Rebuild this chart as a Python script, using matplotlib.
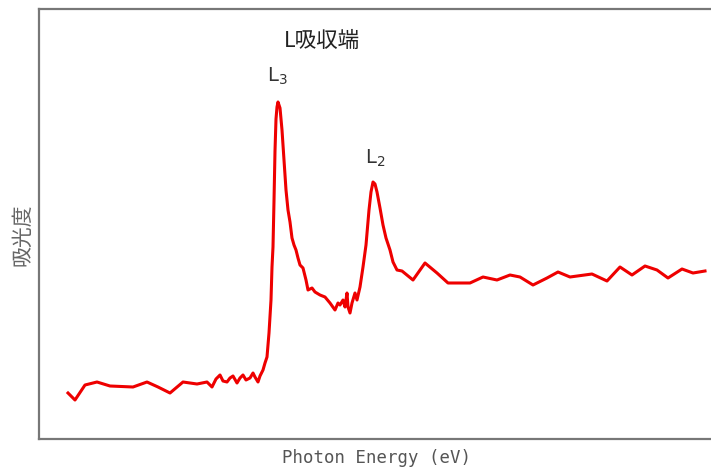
import matplotlib
matplotlib.use('Agg')
import matplotlib.pyplot as plt
import numpy as np

# values (arbitrary units, energy increases to the right)
energy = [68, 75, 85, 97, 110, 133, 147, 158, 170, 183, 197, 207, 212, 216, 220, 223,
          227, 230, 233, 237, 240, 243, 246, 250, 253, 255, 258, 260, 263, 265, 267,
          269, 271, 272, 273, 274, 275, 276, 277, 278, 280, 282, 284, 286, 288, 290,
          292, 294, 296, 298, 300, 303, 306, 308, 312, 315, 320, 325, 330, 335, 338,
          340, 343, 345, 347, 348, 350, 352, 355, 357, 360, 363, 366, 369, 371, 373,
          375, 377, 380, 383, 386, 390, 393, 397, 402, 413, 425, 437, 448, 458, 470,
          483, 497, 510, 520, 533, 547, 558, 570, 592, 607, 620, 632, 645, 657, 668,
          682, 693, 705]
absorb = [76, 69, 84, 87, 83, 82, 87, 82, 76, 87, 85, 87, 82, 90, 94, 88,
          87, 91, 93, 86, 91, 94, 89, 91, 96, 92, 87, 93, 99, 106, 112,
          136, 169, 202, 222, 268, 318, 350, 362, 367, 361, 339, 309, 279, 259, 247,
          231, 224, 219, 211, 204, 201, 189, 179, 181, 177, 174, 172, 166, 159, 166,
          164, 169, 162, 176, 162, 156, 166, 176, 169, 182, 202, 224, 259, 277, 287,
          285, 277, 261, 244, 231, 219, 207, 199, 198, 189, 206, 196, 186, 186, 186,
          192, 189, 194, 192, 184, 191, 197, 192, 195, 188, 202, 194, 203, 199, 191,
          200, 196, 198]

peak_names = ['L$_3$', 'L$_2$']
peak_pos = [277, 375]
peak_txt_y = [393, 311]
edge_title = 'L吸収端'

fig = plt.figure(figsize=(7.11, 4.69), dpi=100)
ax = fig.add_axes([39/711, 30/469, 676/711, 430/469])

ax.plot(energy, absorb, color='#ee0000', lw=2.2, solid_joinstyle='round')

ax.set_xlim(39, 715)
ax.set_ylim(30, 460)
ax.set_xticks([])
ax.set_yticks([])
for s in ax.spines.values():
    s.set_color('#777777')
    s.set_linewidth(1.6)

ax.text(322, 428, edge_title, ha='center', va='center', fontsize=15.5,
        color='#222222', family=['Noto Sans CJK JP', 'DejaVu Sans'])
for name, px, py in zip(peak_names, peak_pos, peak_txt_y):
    ax.text(px, py, name, ha='center', va='center', fontsize=14, color='#333333')

fig.text(22/711, 0.5, '吸光度', rotation=90, ha='center', va='center',
         fontsize=15, color='#666666', family=['Noto Sans CJK JP', 'DejaVu Sans'])
fig.text(376/711, 11/469, 'Photon Energy (eV)', ha='center', va='center',
         fontsize=12.5, color='#555555', family='DejaVu Sans Mono')

fig.savefig('out.png', dpi=100)
